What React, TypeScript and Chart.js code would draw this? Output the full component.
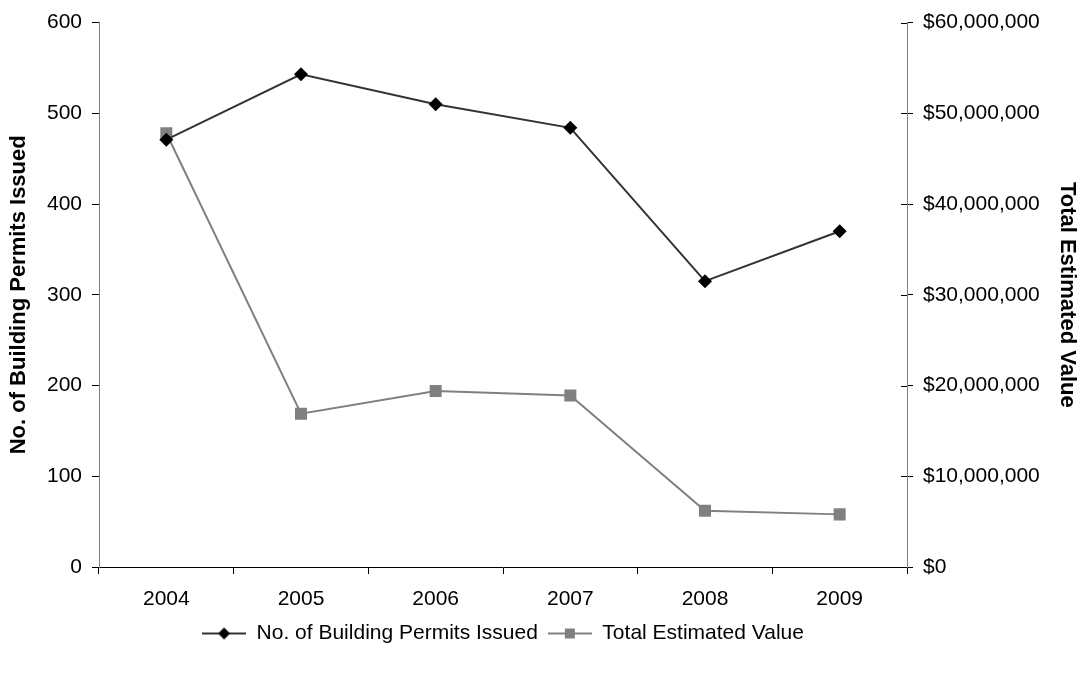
import React, { useEffect, useRef } from "react";
import { Chart, registerables } from "chart.js";

Chart.register(...registerables);

// Years on the category axis
const years = ["2004", "2005", "2006", "2007", "2008", "2009"];
// Number of building permits issued per year (left axis)
const permitsIssued = [471, 543, 510, 484, 315, 370];
// Total estimated value of the permitted work per year (right axis, dollars)
const totalEstimatedValue = [47800000, 16900000, 19400000, 18900000, 6200000, 5800000];

const permitsLabel = "No. of Building Permits Issued";
const valueLabel = "Total Estimated Value";

const FONT = "'Liberation Sans', Arial, sans-serif";
const PERMIT_LINE = "#333333";
const PERMIT_POINT = "#000000";
const VALUE_COLOR = "#808080";

// Small line-with-marker swatch used as the legend symbol
function legendSwatch(lineColor: string, pointColor: string, marker: "diamond" | "square") {
  const c = document.createElement("canvas");
  c.width = 44;
  c.height = 16;
  const ctx = c.getContext("2d")!;
  ctx.strokeStyle = lineColor;
  ctx.lineWidth = 2;
  ctx.beginPath();
  ctx.moveTo(0, 8);
  ctx.lineTo(44, 8);
  ctx.stroke();
  ctx.fillStyle = pointColor;
  ctx.beginPath();
  if (marker === "diamond") {
    ctx.moveTo(22, 2);
    ctx.lineTo(28, 8);
    ctx.lineTo(22, 14);
    ctx.lineTo(16, 8);
    ctx.closePath();
  } else {
    ctx.rect(17, 3, 10, 10);
  }
  ctx.fill();
  return c;
}

// Right axis ticks cross the axis line: draw the inner half here
const crossTicks = {
  id: "crossTicks",
  afterDraw(chart: any) {
    const s = chart.scales.y1;
    if (!s) return;
    const ctx = chart.ctx;
    ctx.save();
    ctx.strokeStyle = "#000000";
    ctx.lineWidth = 1;
    ctx.beginPath();
    s.ticks.forEach((_t: any, i: number) => {
      const y = Math.round(s.getPixelForTick(i)) + 0.5;
      ctx.moveTo(s.left - 6, y);
      ctx.lineTo(s.left, y);
    });
    ctx.stroke();
    ctx.restore();
  },
};

export default function App() {
  const canvasRef = useRef<HTMLCanvasElement | null>(null);

  useEffect(() => {
    document.body.style.margin = "0";
    const canvas = canvasRef.current;
    if (!canvas) return;

    const permitIcon = legendSwatch(PERMIT_LINE, PERMIT_POINT, "diamond");
    const valueIcon = legendSwatch(VALUE_COLOR, VALUE_COLOR, "square");

    const chart = new Chart(canvas, {
      type: "line",
      data: {
        labels: years,
        datasets: [
          {
            label: permitsLabel,
            data: permitsIssued,
            yAxisID: "y",
            borderColor: PERMIT_LINE,
            borderWidth: 2,
            pointStyle: "rectRot",
            pointRadius: 7,
            pointBackgroundColor: PERMIT_POINT,
            pointBorderColor: PERMIT_POINT,
            pointBorderWidth: 0,
            tension: 0,
            order: 1,
          },
          {
            label: valueLabel,
            data: totalEstimatedValue,
            yAxisID: "y1",
            borderColor: VALUE_COLOR,
            borderWidth: 2,
            pointStyle: "rect",
            pointRadius: 8.5,
            pointBackgroundColor: VALUE_COLOR,
            pointBorderColor: VALUE_COLOR,
            pointBorderWidth: 0,
            tension: 0,
            order: 2,
          },
        ],
      },
      options: {
        responsive: false,
        animation: false,
        layout: { padding: { top: 19, left: 0, right: 0, bottom: 20 } },
        plugins: {
          tooltip: { enabled: false },
          legend: {
            position: "bottom",
            fullSize: false,
            labels: {
              usePointStyle: true,
              pointStyleWidth: 44,
              color: "#000000",
              font: { family: FONT, size: 21 },
              padding: 10,
              generateLabels: () => [
                { text: permitsLabel, pointStyle: permitIcon as any, fillStyle: PERMIT_POINT, strokeStyle: PERMIT_LINE, lineWidth: 0, hidden: false, datasetIndex: 0 },
                { text: valueLabel, pointStyle: valueIcon as any, fillStyle: VALUE_COLOR, strokeStyle: VALUE_COLOR, lineWidth: 0, hidden: false, datasetIndex: 1 },
              ],
            },
          },
        },
        scales: {
          x: {
            type: "category",
            offset: true,
            grid: {
              offset: true,
              drawOnChartArea: false,
              drawTicks: true,
              tickLength: 7,
              color: "#000000",
            },
            border: { display: true, color: "#000000", width: 1 },
            ticks: {
              color: "#000000",
              padding: 13,
              maxRotation: 0,
              font: { family: FONT, size: 21 },
            },
            afterFit: (s: any) => {
              s.height = 46;
            },
          },
          y: {
            type: "linear",
            position: "left",
            min: 0,
            max: 600,
            ticks: {
              stepSize: 100,
              color: "#000000",
              padding: 10,
              font: { family: FONT, size: 21 },
            },
            grid: {
              drawOnChartArea: false,
              drawTicks: true,
              tickLength: 7,
              color: "#000000",
            },
            border: { display: true, color: "#808080", width: 1 },
            title: {
              display: true,
              text: permitsLabel,
              color: "#000000",
              font: { family: FONT, size: 22, weight: "bold" },
              padding: { top: 6, bottom: 0 },
            },
            afterFit: (s: any) => {
              s.width = 99;
            },
          },
          y1: {
            type: "linear",
            position: "right",
            min: 0,
            max: 60000000,
            ticks: {
              stepSize: 10000000,
              color: "#000000",
              padding: 10,
              font: { family: FONT, size: 21 },
              callback: (v: any) => "$" + Number(v).toLocaleString("en-US"),
            },
            grid: {
              drawOnChartArea: false,
              drawTicks: true,
              tickLength: 6,
              color: "#000000",
            },
            border: { display: true, color: "#808080", width: 1 },
            title: {
              display: true,
              text: valueLabel,
              color: "#000000",
              font: { family: FONT, size: 22, weight: "bold" },
              padding: { top: 3, bottom: 0 },
            },
            afterFit: (s: any) => {
              s.width = 176;
            },
          },
        },
      } as any,
      plugins: [crossTicks],
    });

    return () => chart.destroy();
  }, []);

  return (
    <div style={{ width: 1083, height: 674, background: "#ffffff" }}>
      <canvas ref={canvasRef} width={1083} height={674} style={{ display: "block" }} />
    </div>
  );
}
